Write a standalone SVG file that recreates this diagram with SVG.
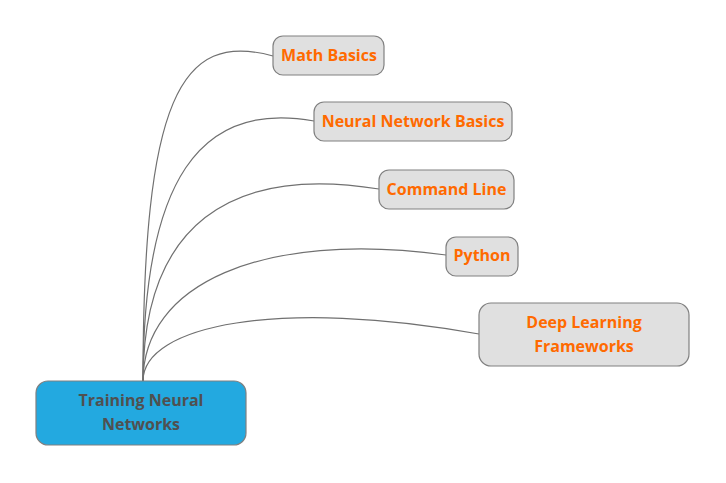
<svg xmlns="http://www.w3.org/2000/svg" width="726" height="483" viewBox="0 0 726 483">
<style>
.conn{fill:none;stroke:#707070;stroke-width:1.2}
.node rect{fill:#e0e0e0;stroke:#808080;stroke-width:1.2}
.node text{font-family:"Open Sans","Noto Sans",sans-serif;font-weight:bold;font-size:16px;fill:#ff6a00;text-anchor:middle}
#root rect{fill:#23a9e0}
#root text{fill:#505050}
</style>
<rect width="726" height="483" fill="#ffffff"/>
<g id="connectors">
<path class="conn" d="M143,381 C143,100 180,30 273,56"/>
<path class="conn" d="M143,381 C143,180 200,100 314,121"/>
<path class="conn" d="M143,381 C143,225 230,165 379,189"/>
<path class="conn" d="M143,381 C143,285 260,230 446,255"/>
<path class="conn" d="M143,381 C143,325 280,298 479,334"/>
</g>
<g id="root" class="node">
<rect x="36" y="381" width="210" height="64" rx="12"/>
<text x="141" y="406">Training Neural</text>
<text x="141" y="430">Networks</text>
</g>
<g id="math" class="node">
<rect x="273" y="36" width="111" height="39" rx="10"/>
<text x="329" y="61">Math Basics</text>
</g>
<g id="nnb" class="node">
<rect x="314" y="102" width="198" height="39" rx="10"/>
<text x="413" y="127">Neural Network Basics</text>
</g>
<g id="cl" class="node">
<rect x="379" y="170" width="135" height="39" rx="10"/>
<text x="446.5" y="195">Command Line</text>
</g>
<g id="py" class="node">
<rect x="446" y="237" width="72" height="39" rx="10"/>
<text x="482" y="261">Python</text>
</g>
<g id="dlf" class="node">
<rect x="479" y="303" width="210" height="63" rx="12"/>
<text x="584" y="328">Deep Learning</text>
<text x="584" y="352">Frameworks</text>
</g>
</svg>
